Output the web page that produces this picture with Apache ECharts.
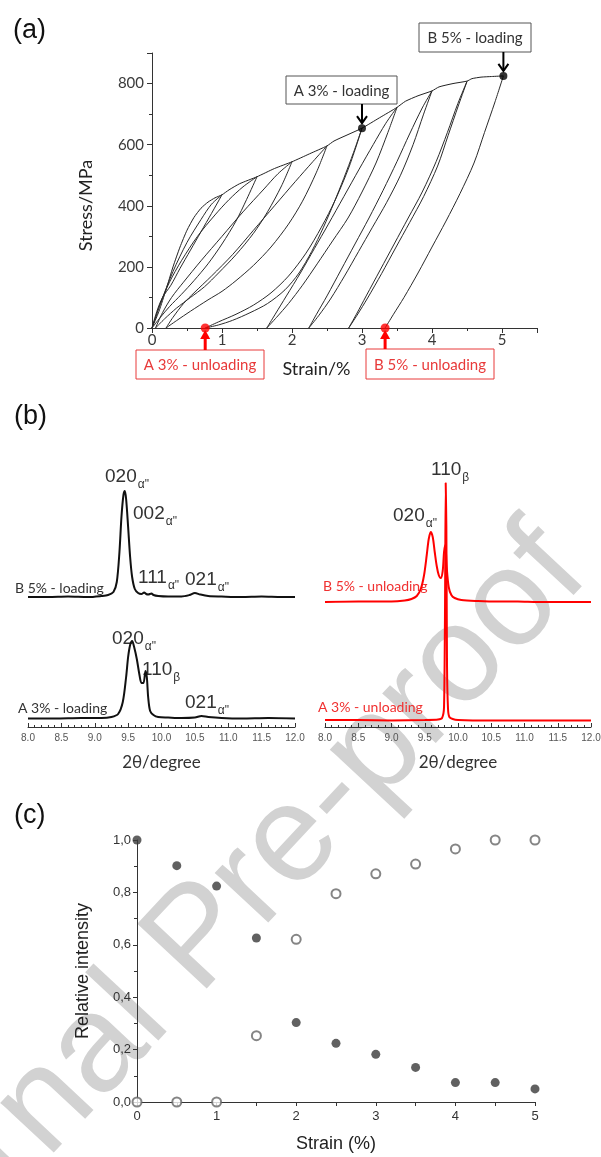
<!DOCTYPE html>
<html>
<head>
<meta charset="utf-8">
<script src="https://cdn.jsdelivr.net/npm/echarts@6/dist/echarts.min.js"></script>
<style>
  html, body { margin: 0; padding: 0; background: #fff; }
  #main { width: 601px; height: 1157px; }
</style>
</head>
<body>
<div id="main"></div>
<script>
// ---- (a) cyclic stress / strain curves  [strain %, stress MPa]
var envelope = [[0,0],[0.1,55],[0.2,125],[0.3,200],[0.4,265],[0.5,320],[0.6,362],[0.7,392],[0.8,412],[0.9,426],[1.0,436],
  [1.1,452],[1.25,472],[1.5,495],[1.75,522],[2.0,544],[2.25,570],[2.5,596],[2.6,612],[2.8,633],[3.0,654],[3.25,688],
  [3.5,722],[3.62,742],[3.8,760],[4.0,776],[4.1,789],[4.3,800],[4.5,808],[4.57,816],[4.7,821],[4.85,823],[5.02,825]];

var unloadCurves = [
  [[1.0,436],[0.85,375],[0.7,315],[0.55,255],[0.4,195],[0.27,140],[0.15,100],[0.07,55],[0,0]],
  [[1.5,495],[1.35,420],[1.2,350],[1.0,275],[0.8,210],[0.6,155],[0.42,110],[0.25,70],[0.12,35],[0,0]],
  [[2.0,544],[1.85,465],[1.65,380],[1.45,310],[1.2,240],[0.95,180],[0.75,135],[0.55,100],[0.35,65],[0.18,30],[0.05,0]],
  [[2.5,596],[2.35,510],[2.15,415],[1.95,340],[1.7,265],[1.45,205],[1.2,155],[1.0,120],[0.8,92],[0.55,55],[0.35,24],[0.2,0]],
  [[3.0,654],[2.88,575],[2.74,490],[2.6,410],[2.45,330],[2.28,250],[2.1,180],[1.9,125],[1.65,80],[1.4,50],[1.15,25],[0.95,10],[0.76,0]],
  [[3.5,722],[3.37,640],[3.2,540],[3.0,445],[2.8,360],[2.58,285],[2.36,210],[2.15,140],[1.95,80],[1.78,35],[1.64,0]],
  [[4.0,776],[3.88,700],[3.73,600],[3.55,500],[3.35,410],[3.15,330],[2.95,250],[2.75,170],[2.55,95],[2.38,40],[2.24,0]],
  [[4.5,807],[4.38,730],[4.23,630],[4.08,530],[3.88,430],[3.68,345],[3.48,262],[3.28,178],[3.08,98],[2.93,42],[2.81,0]],
  [[5.02,825],[4.9,740],[4.75,640],[4.6,540],[4.4,440],[4.2,350],[4.0,265],[3.8,180],[3.6,100],[3.45,45],[3.33,0]]
];

var reloadCurves = [
  [[0,0],[0.12,80],[0.3,185],[0.5,280],[0.7,355],[0.85,405],[1.0,436]],
  [[0,0],[0.12,80],[0.25,150],[0.42,220],[0.65,300],[0.9,370],[1.1,420],[1.3,462],[1.5,495]],
  [[0.05,0],[0.15,50],[0.28,100],[0.45,150],[0.7,220],[1.0,300],[1.3,380],[1.6,455],[1.8,505],[2.0,544]],
  [[0.2,0],[0.3,35],[0.45,80],[0.6,115],[0.85,170],[1.15,240],[1.45,320],[1.75,400],[2.05,480],[2.3,545],[2.5,596]],
  [[0.76,0],[0.95,20],[1.2,45],[1.45,75],[1.7,115],[1.95,170],[2.2,245],[2.42,330],[2.62,420],[2.82,530],[3.0,654]],
  [[1.64,0],[1.76,45],[1.92,105],[2.12,180],[2.32,260],[2.52,340],[2.74,430],[2.96,520],[3.16,600],[3.34,670],[3.5,722]],
  [[2.24,0],[2.35,45],[2.5,105],[2.7,190],[2.9,275],[3.1,360],[3.3,450],[3.5,545],[3.68,635],[3.86,720],[4.0,776]],
  [[2.81,0],[2.92,45],[3.06,105],[3.26,190],[3.46,275],[3.66,360],[3.86,445],[4.06,545],[4.22,640],[4.37,735],[4.5,807]]
];

var loadingPoints = [[3.0,654],[5.02,825]];        // A 3% / B 5% loading
var unloadingPoints = [[0.76,0],[3.33,0]];         // A 3% / B 5% unloading

// ---- (b) diffraction patterns  (2theta degree, intensity a.u.)
var tthLoadB = [8.0,8.3,8.6,8.9,9.1,9.2,9.28,9.33,9.37,9.4,9.43,9.45,9.47,9.5,9.53,9.56,9.6,9.65,9.7,9.74,9.77,9.8,9.85,9.88,9.95,10.1,10.3,10.42,10.5,10.58,10.7,10.9,11.2,11.5,11.8,12.0];
var intLoadB = [10,10,10.5,10,11,12,15,25,55,90,112,116,108,80,50,30,18,14,13,14.5,13,12.5,13.5,12,11,10.5,10.5,12,14,12.5,11,10.5,10,10.5,10,10];

var tthLoadA = [8.0,8.4,8.8,9.1,9.25,9.35,9.42,9.47,9.5,9.53,9.56,9.59,9.63,9.67,9.7,9.73,9.76,9.78,9.8,9.83,9.88,9.95,10.1,10.3,10.5,10.6,10.7,10.9,11.2,11.6,12.0];
var intLoadA = [8.5,8.5,9,9,10,13,25,50,70,82,86,80,68,52,44,44,56,50,30,16,12,10,9.5,9,9.5,11,10,9,8.5,9,8.5];

var tthUnloadB = [8.0,8.5,9.0,9.2,9.3,9.38,9.44,9.49,9.53,9.56,9.59,9.62,9.65,9.68,9.71,9.74,9.77,9.79,9.81,9.83,9.86,9.9,9.95,10.05,10.3,10.6,10.9,11.2,11.6,12.0];
var intUnloadB = [5,5.5,5.5,6.5,8,11,18,32,52,68,75,70,55,41,32,29,36,55,62,40,20,12,9,7,6,5.5,5.5,5,5,5];

var tthUnloadA = [8.0,8.5,9.0,9.5,9.7,9.76,9.79,9.805,9.815,9.825,9.835,9.85,9.87,9.92,10.0,10.5,11.0,11.5,12.0];
var intUnloadA = [7,7,6.5,7,7.5,9,20,120,244,200,60,18,10,8,7,6.5,6.5,6.5,6.5];

// ---- (c) relative intensity vs strain
var strainC = [0,0.5,1,1.5,2,2.5,3,3.5,4,4.5,5];
var relFilled = [1.0,0.902,0.824,0.626,0.303,0.224,0.182,0.132,0.074,0.074,0.05];
var relOpen = [0,0,0,0.253,0.621,0.795,0.871,0.908,0.966,1.0,1.0];

function zip(xs, ys) { return xs.map(function (x, i) { return [x, ys[i]]; }); }

var calibri = 'Lato';
var arial = '"Liberation Sans", Arial, sans-serif';

var chart = echarts.init(document.getElementById('main'));

var series = [];
series.push({type: 'line', xAxisIndex: 0, yAxisIndex: 0, data: envelope, smooth: 0.2, showSymbol: false,
  silent: true, lineStyle: {color: '#222', width: 1}});
unloadCurves.concat(reloadCurves).forEach(function (c) {
  series.push({type: 'line', xAxisIndex: 0, yAxisIndex: 0, data: c, smooth: 0.3, showSymbol: false,
    silent: true, lineStyle: {color: '#2a2a2a', width: 1}});
});
series.push({type: 'scatter', xAxisIndex: 0, yAxisIndex: 0, data: loadingPoints, symbolSize: 8, clip: false,
  itemStyle: {color: '#000'}, z: 5});
series.push({type: 'scatter', xAxisIndex: 0, yAxisIndex: 0, data: unloadingPoints, symbolSize: 9, clip: false,
  itemStyle: {color: '#ff0000'}, z: 5});

// (b)
series.push({type: 'line', xAxisIndex: 1, yAxisIndex: 1, data: zip(tthLoadB, intLoadB), showSymbol: false, smooth: 0.3,
  lineStyle: {color: '#111', width: 2}});
series.push({type: 'line', xAxisIndex: 2, yAxisIndex: 2, data: zip(tthLoadA, intLoadA), showSymbol: false, smooth: 0.3,
  lineStyle: {color: '#111', width: 2}});
series.push({type: 'line', xAxisIndex: 3, yAxisIndex: 3, data: zip(tthUnloadB, intUnloadB), showSymbol: false, smooth: 0.3,
  lineStyle: {color: '#ff0000', width: 2}});
series.push({type: 'line', xAxisIndex: 4, yAxisIndex: 4, data: zip(tthUnloadA, intUnloadA), showSymbol: false, smooth: 0.2,
  lineStyle: {color: '#ff0000', width: 2}});

// (c)
series.push({type: 'scatter', xAxisIndex: 5, yAxisIndex: 5, data: zip(strainC, relFilled), symbolSize: 9, clip: false,
  itemStyle: {color: '#3a3a3a'}, z: 4});
series.push({type: 'scatter', xAxisIndex: 5, yAxisIndex: 5, data: zip(strainC, relOpen), symbol: 'emptyCircle', symbolSize: 9, clip: false,
  itemStyle: {color: '#666', borderWidth: 1}, z: 4});

var axisGray = {lineStyle: {color: '#333', width: 1}};

function xrdAxis(gridIndex, show) {
  return {
    gridIndex: gridIndex, type: 'value', min: 8, max: 12, interval: 0.5, show: show,
    axisLine: axisGray,
    axisTick: {inside: true, length: 4, lineStyle: {color: '#333'}},
    minorTick: {show: true, splitNumber: 5, length: 2, lineStyle: {color: '#333'}},
    axisLabel: {fontSize: 10, fontFamily: arial, color: '#555', margin: 6,
      formatter: function (v) { return v.toFixed(1); }},
    splitLine: {show: false},
    name: '2θ/degree', nameLocation: 'middle', nameGap: 27,
    nameTextStyle: {fontSize: 17, fontFamily: calibri, color: '#333'}
  };
}
function hiddenY(gridIndex, max) {
  return {gridIndex: gridIndex, type: 'value', min: 0, max: max, show: false, splitLine: {show: false}};
}

var option = {
  animation: false,
  backgroundColor: '#fff',
  grid: [
    {left: 152, top: 53, width: 385, height: 275, outerBoundsMode: 'none'},
    {left: 28, top: 477, width: 267, height: 130, outerBoundsMode: 'none'},
    {left: 28, top: 597, width: 267, height: 130, outerBoundsMode: 'none'},
    {left: 325, top: 477, width: 266, height: 130, outerBoundsMode: 'none'},
    {left: 325, top: 477, width: 266, height: 250, outerBoundsMode: 'none'},
    {left: 137, top: 840, width: 398, height: 262, outerBoundsMode: 'none'}
  ],
  xAxis: [
    {
      gridIndex: 0, type: 'value', min: 0, max: 5.5, interval: 1,
      axisLine: axisGray,
      axisTick: {length: 5, lineStyle: {color: '#333'}},
      minorTick: {show: true, splitNumber: 2, length: 3, lineStyle: {color: '#333'}},
      axisLabel: {fontSize: 15, fontFamily: calibri, color: '#3a3a3a', margin: 5, showMaxLabel: false},
      splitLine: {show: false},
      name: 'Strain/%', nameLocation: 'middle', nameGap: 32,
      nameTextStyle: {fontSize: 18, fontFamily: calibri, color: '#222', padding: [0, 56, 0, 0]}
    },
    xrdAxis(1, false),
    xrdAxis(2, true),
    xrdAxis(3, false),
    xrdAxis(4, true),
    {
      gridIndex: 5, type: 'value', min: 0, max: 5, interval: 1,
      axisLine: axisGray,
      axisTick: {length: 4, lineStyle: {color: '#333'}},
      minorTick: {show: true, splitNumber: 2, length: 4, lineStyle: {color: '#333'}},
      axisLabel: {fontSize: 13, fontFamily: arial, color: '#333', margin: 8},
      splitLine: {show: false},
      name: 'Strain (%)', nameLocation: 'middle', nameGap: 33,
      nameTextStyle: {fontSize: 18, fontFamily: arial, color: '#222'}
    }
  ],
  yAxis: [
    {
      gridIndex: 0, type: 'value', min: 0, max: 900, interval: 200,
      axisLine: {show: true, lineStyle: {color: '#333', width: 1}},
      axisTick: {show: true, length: 5, lineStyle: {color: '#333'}},
      minorTick: {show: true, splitNumber: 2, length: 3, lineStyle: {color: '#333'}},
      axisLabel: {fontSize: 15, fontFamily: calibri, color: '#3a3a3a', margin: 8, showMaxLabel: false},
      splitLine: {show: false},
      name: 'Stress/MPa', nameLocation: 'middle', nameRotate: 90, nameGap: 57,
      nameTextStyle: {fontSize: 18, fontFamily: calibri, color: '#222', padding: [0, 30, 0, 0]}
    },
    hiddenY(1, 130),
    hiddenY(2, 130),
    hiddenY(3, 130),
    hiddenY(4, 250),
    {
      gridIndex: 5, type: 'value', min: 0, max: 1, interval: 0.2,
      axisLine: {show: true, lineStyle: {color: '#333', width: 1}},
      axisTick: {show: true, length: 4, lineStyle: {color: '#333'}},
      minorTick: {show: true, splitNumber: 2, length: 3, lineStyle: {color: '#333'}},
      axisLabel: {fontSize: 13, fontFamily: arial, color: '#333', margin: 6,
        formatter: function (v) { return v.toFixed(1).replace('.', ','); }},
      splitLine: {show: false},
      name: 'Relative intensity', nameLocation: 'middle', nameRotate: 90, nameGap: 45,
      nameTextStyle: {fontSize: 18, fontFamily: arial, color: '#222'}
    }
  ],
  series: series
};

chart.setOption(option);

// ---- annotations
var ctx = document.createElement('canvas').getContext('2d');
function textWidth(str, font) { ctx.font = font; return ctx.measureText(str).width; }

var g = [];

// watermark
g.push({type: 'text', x: 200, y: 940, rotation: 47 * Math.PI / 180, z: -10, silent: true,
  style: {text: 'Journal Pre-proof', font: '138px ' + arial, fill: '#d2d2d2', align: 'center', verticalAlign: 'middle'}});

// panel letters
[['(a)', 13, 31], ['(b)', 14, 417], ['(c)', 14, 816]].forEach(function (p) {
  g.push({type: 'text', x: p[1], y: p[2], style: {text: p[0], font: '27px ' + arial, fill: '#111', verticalAlign: 'middle'}});
});

function box(x, y, w, h, label, color, textColor) {
  g.push({type: 'rect', shape: {x: x, y: y, width: w, height: h}, z: 10,
    style: {fill: '#fff', stroke: color, lineWidth: 1}});
  g.push({type: 'text', x: x + w / 2, y: y + h / 2 + 1, z: 11,
    style: {text: label, font: '15px ' + calibri, fill: textColor, align: 'center', verticalAlign: 'middle'}});
}

var pA = chart.convertToPixel({gridIndex: 0}, loadingPoints[0]);
var pB = chart.convertToPixel({gridIndex: 0}, loadingPoints[1]);
var uA = chart.convertToPixel({gridIndex: 0}, unloadingPoints[0]);
var uB = chart.convertToPixel({gridIndex: 0}, unloadingPoints[1]);

box(286, 76, 111, 28, 'A 3% - loading', '#555', '#333');
box(419, 23, 112, 29, 'B 5% - loading', '#555', '#333');
box(136, 350, 128, 29, 'A 3% - unloading', '#e83a3a', '#e83a3a');
box(366, 349, 128, 30, 'B 5% - unloading', '#e83a3a', '#e83a3a');

function downArrow(x, y0, y1) {
  g.push({type: 'polyline', z: 12, shape: {points: [[x, y0], [x, y1]]}, style: {stroke: '#000', lineWidth: 2}});
  g.push({type: 'polyline', z: 12, shape: {points: [[x - 5, y1 - 7], [x, y1], [x + 5, y1 - 7]]}, style: {stroke: '#000', lineWidth: 2, fill: null}});
}
function upArrow(x, y0, y1) {
  g.push({type: 'polyline', z: 12, shape: {points: [[x, y0], [x, y1 + 4]]}, style: {stroke: '#ff0000', lineWidth: 3}});
  g.push({type: 'polygon', z: 12, shape: {points: [[x - 5, y1 + 9], [x, y1], [x + 5, y1 + 9]]}, style: {fill: '#ff0000'}});
}
downArrow(pA[0], 104, pA[1] - 5);
downArrow(pB[0], 52, pB[1] - 5);
upArrow(uA[0], 350, uA[1] + 2);
upArrow(uB[0], 349, uB[1] + 2);

// peak labels in (b)
function peak(x, y, main, sub, color) {
  var f1 = '19px ' + arial;
  g.push({type: 'text', x: x, y: y, style: {text: main, font: f1, fill: color || '#333', verticalAlign: 'middle'}});
  g.push({type: 'text', x: x + textWidth(main, f1) + 1, y: y + 8,
    style: {text: sub, font: '12px ' + arial, fill: color || '#333', verticalAlign: 'middle'}});
}
peak(105, 477, '020', 'α"');
peak(133, 514, '002', 'α"');
peak(138, 578, '111', 'α"');
peak(185, 580, '021', 'α"');
peak(112, 639, '020', 'α"');
peak(142, 670, '110', 'β');
peak(185, 703, '021', 'α"');
peak(431, 470, '110', 'β');
peak(393, 516, '020', 'α"');

function tag(x, y, str, color) {
  g.push({type: 'text', x: x, y: y, style: {text: str, font: '14px ' + calibri, fill: color, verticalAlign: 'middle'}});
}
tag(15, 588, 'B 5% - loading', '#333');
tag(18, 708, 'A 3% - loading', '#333');
tag(323, 586, 'B 5% - unloading', '#f03030');
tag(318, 707, 'A 3% - unloading', '#f03030');

chart.setOption({graphic: {elements: g}});
</script>
</body>
</html>
